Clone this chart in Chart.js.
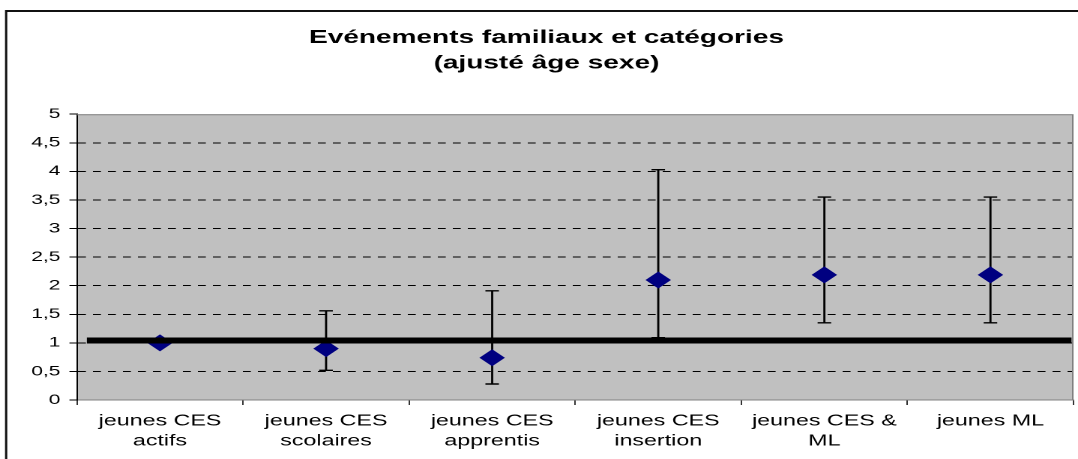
<!DOCTYPE html>
<html>
<head>
<meta charset="utf-8">
<script src="https://cdn.jsdelivr.net/npm/chart.js@4.4.1/dist/chart.umd.min.js"></script>
<style>
  html, body { margin: 0; padding: 0; background: #fff; }
  #plot { display: block; }
</style>
</head>
<body>
<!-- the original picture is stretched ~1.5x sideways, so the chart is drawn narrow and stretched by css -->
<canvas id="plot" width="719" height="459" style="width:1078px;height:459px"></canvas>
<script>
const categories = [
  ['jeunes CES', 'actifs'],
  ['jeunes CES', 'scolaires'],
  ['jeunes CES', 'apprentis'],
  ['jeunes CES', 'insertion'],
  ['jeunes CES &', 'ML'],
  'jeunes ML'
];
const oddsRatio = [1.00, 0.90, 0.74, 2.10, 2.19, 2.19];
const ciLow = [1.00, 0.52, 0.28, 1.09, 1.35, 1.35];
const ciHigh = [1.00, 1.56, 1.91, 4.03, 3.55, 3.55];
const refLevel = 1.04;
const yTickLabels = ['0', '0,5', '1', '1,5', '2', '2,5', '3', '3,5', '4', '4,5', '5'];
const titleLines = ['Evénements familiaux et catégories', '(ajusté âge sexe)'];

Chart.defaults.font.family = 'Arial, "Liberation Sans", sans-serif';
Chart.defaults.color = '#000';

// grey plot area
const plotBg = {
  id: 'plotBg',
  beforeDraw(chart) {
    const {ctx, chartArea: a} = chart;
    ctx.save();
    ctx.fillStyle = '#c0c0c0';
    ctx.fillRect(a.left, a.top, a.right - a.left, a.bottom - a.top);
    ctx.restore();
  }
};

// frame top/right + confidence intervals
const errorBars = {
  id: 'errorBars',
  beforeDatasetsDraw(chart) {
    const {ctx, chartArea: a, scales: {x, y}} = chart;
    ctx.save();
    ctx.strokeStyle = '#808080';
    ctx.lineWidth = 1;
    ctx.beginPath();
    ctx.moveTo(a.left, a.top + 0.5);
    ctx.lineTo(a.right - 0.5, a.top + 0.5);
    ctx.lineTo(a.right - 0.5, a.bottom);
    ctx.stroke();

    ctx.strokeStyle = '#000';
    ctx.lineWidth = 1.4;
    categories.forEach((c, i) => {
      if (ciLow[i] === ciHigh[i]) return;
      const px = x.getPixelForValue(i);
      const lo = y.getPixelForValue(ciLow[i]);
      const hi = y.getPixelForValue(ciHigh[i]);
      ctx.beginPath();
      ctx.moveTo(px, lo); ctx.lineTo(px, hi);
      ctx.moveTo(px - 4.5, lo); ctx.lineTo(px + 4.5, lo);
      ctx.moveTo(px - 4.5, hi); ctx.lineTo(px + 4.5, hi);
      ctx.stroke();
    });
    ctx.restore();
  }
};

// outer chart frame (only left and top show in the picture)
const outerFrame = {
  id: 'outerFrame',
  afterDraw(chart) {
    const ctx = chart.ctx;
    ctx.save();
    ctx.strokeStyle = '#111';
    ctx.lineWidth = 2;
    ctx.beginPath();
    ctx.moveTo(4, 11);
    ctx.lineTo(chart.width, 11);
    ctx.stroke();
    ctx.lineWidth = 1.5;
    ctx.beginPath();
    ctx.moveTo(4.1, 10);
    ctx.lineTo(4.1, chart.height);
    ctx.stroke();
    ctx.restore();
  }
};

new Chart(document.getElementById('plot'), {
  type: 'line',
  data: {
    labels: categories,
    datasets: [
      {
        label: 'ref',
        xAxisID: 'x2',
        data: [{x: 0.01, y: refLevel}, {x: 0.998, y: refLevel}],
        borderColor: '#000',
        borderWidth: 6,
        pointRadius: 0
      },
      {
        label: 'OR',
        data: oddsRatio,
        showLine: false,
        pointStyle: 'rectRot',
        pointRadius: 8.5,
        pointBackgroundColor: '#000080',
        pointBorderColor: '#000080',
        pointBorderWidth: 0
      }
    ]
  },
  options: {
    responsive: false,
    devicePixelRatio: 2,
    animation: false,
    layout: { autoPadding: false, padding: { left: 13, right: 3, top: 0, bottom: 0 } },
    plugins: {
      legend: { display: false },
      tooltip: { enabled: false },
      title: {
        display: true,
        text: titleLines,
        color: '#000',
        font: { size: 18.7, weight: 'bold', lineHeight: 1.37 },
        padding: { top: 25, bottom: 38 }
      }
    },
    scales: {
      x: {
        type: 'category',
        offset: true,
        grid: {
          display: true,
          drawOnChartArea: false,
          drawTicks: true,
          tickLength: 5,
          offset: true,
          tickColor: '#333'
        },
        border: { color: '#808080', width: 1 },
        ticks: {
          font: { size: 15.5, lineHeight: 1.3 },
          padding: 6,
          maxRotation: 0,
          autoSkip: false
        },
        afterFit(scale) { scale.height = 59; }
      },
      x2: {
        type: 'linear',
        display: false,
        min: 0,
        max: 1
      },
      y: {
        min: 0,
        max: 5,
        ticks: {
          stepSize: 0.5,
          font: { size: 14 },
          padding: 6,
          callback: (v, i) => yTickLabels[i]
        },
        grid: {
          color: c => (c.tick && (c.tick.value === 0 || c.tick.value === 5)) ? 'rgba(0,0,0,0)' : '#000',
          tickColor: '#000',
          tickLength: 5,
          lineWidth: 1
        },
        border: { color: '#000', width: 1, dash: [5.3, 4.7] },
        afterFit(scale) { scale.width = 38.3; }
      }
    }
  },
  plugins: [plotBg, errorBars, outerFrame]
});
</script>
</body>
</html>
